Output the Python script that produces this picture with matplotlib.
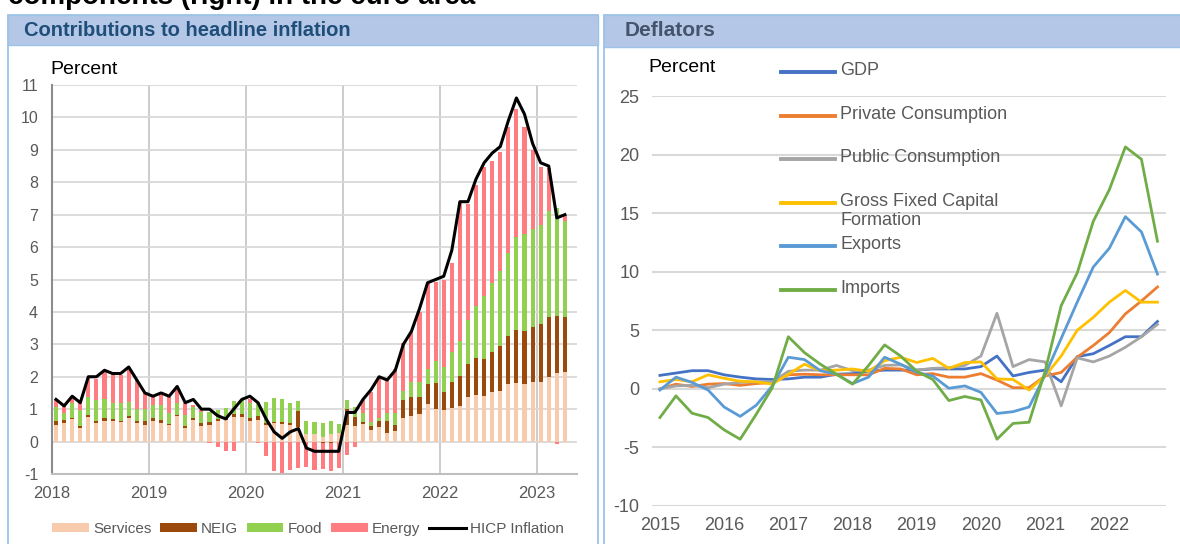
import numpy as np
import matplotlib
matplotlib.use('Agg')
import matplotlib.pyplot as plt
from matplotlib.patches import Rectangle
from matplotlib.lines import Line2D

plt.rcParams['font.family'] = ['Liberation Sans', 'DejaVu Sans']
plt.rcParams['axes.unicode_minus'] = False

# Left panel: contributions to HICP, monthly Jan 2018 - Apr 2023 (pp)
services = [0.51, 0.57, 0.70, 0.41, 0.77, 0.57, 0.64, 0.62, 0.59, 0.74, 0.57, 0.52,
            0.65, 0.57, 0.51, 0.79, 0.41, 0.67, 0.48, 0.51, 0.62, 0.67, 0.75, 0.77,
            0.62, 0.67, 0.51, 0.57, 0.54, 0.51, 0.44, 0.24, 0.24, 0.15, 0.24, 0.26,
            0.51, 0.49, 0.53, 0.36, 0.44, 0.28, 0.33, 0.72, 0.79, 0.85, 1.15, 1.00,
            0.98, 1.03, 1.10, 1.36, 1.44, 1.41, 1.54, 1.57, 1.78, 1.80, 1.78, 1.83,
            1.83, 2.00, 2.11, 2.15]
neig = [0.12, 0.10, 0.03, 0.07, 0.04, 0.08, 0.08, 0.07, 0.04, 0.05, 0.05, 0.10,
        0.07, 0.10, 0.02, 0.03, 0.08, 0.07, 0.08, 0.08, 0.07, 0.05, 0.10, 0.08,
        0.10, 0.13, 0.06, 0.04, 0.05, 0.05, 0.50, 0.00, -0.02, -0.03, -0.05, 0.00,
        0.49, 0.28, 0.08, 0.12, 0.18, 0.34, 0.18, 0.56, 0.58, 0.54, 0.62, 0.80,
        0.56, 0.82, 0.92, 1.02, 1.13, 1.13, 1.22, 1.38, 1.48, 1.64, 1.64, 1.72,
        1.79, 1.83, 1.77, 1.68]
food = [0.44, 0.22, 0.47, 0.50, 0.56, 0.63, 0.59, 0.51, 0.55, 0.44, 0.39, 0.38,
        0.41, 0.45, 0.36, 0.38, 0.33, 0.34, 0.36, 0.33, 0.29, 0.31, 0.41, 0.43,
        0.46, 0.42, 0.65, 0.72, 0.73, 0.64, 0.30, 0.41, 0.36, 0.42, 0.40, 0.27,
        0.29, 0.31, 0.26, 0.13, 0.12, 0.25, 0.36, 0.29, 0.46, 0.44, 0.46, 0.70,
        0.75, 0.90, 1.08, 1.37, 1.61, 1.95, 2.12, 2.31, 2.55, 2.86, 2.97, 3.00,
        3.06, 3.28, 3.34, 2.98]
energy = [0.20, 0.21, 0.14, 0.20, 0.58, 0.64, 0.85, 0.87, 0.88, 1.01, 0.89, 0.49,
          0.26, 0.32, 0.50, 0.50, 0.36, 0.04, 0.05, -0.05, -0.17, -0.30, -0.30, 0.02,
          0.13, -0.03, -0.44, -0.92, -1.03, -0.87, -0.82, -0.79, -0.85, -0.82, -0.87, -0.82,
          -0.41, -0.17, 0.41, 0.92, 1.24, 1.03, 1.36, 1.48, 1.56, 2.18, 2.65, 2.43,
          2.71, 2.77, 4.30, 3.58, 3.73, 3.99, 3.77, 3.68, 3.88, 3.95, 3.30, 2.44,
          1.80, 1.32, -0.08, 0.18]
hicp = [1.3, 1.1, 1.4, 1.2, 2.0, 2.0, 2.2, 2.1, 2.1, 2.3, 1.9, 1.5,
        1.4, 1.5, 1.4, 1.7, 1.2, 1.3, 1.0, 1.0, 0.8, 0.7, 1.0, 1.3,
        1.4, 1.2, 0.7, 0.3, 0.1, 0.3, 0.4, -0.2, -0.3, -0.3, -0.3, -0.3,
        0.9, 0.9, 1.3, 1.6, 2.0, 1.9, 2.2, 3.0, 3.4, 4.1, 4.9, 5.0,
        5.1, 5.9, 7.4, 7.4, 8.1, 8.6, 8.9, 9.1, 9.9, 10.6, 10.1, 9.2,
        8.6, 8.5, 6.9, 7.0]
left_years = ['2018', '2019', '2020', '2021', '2022', '2023']
comp_names = ['Services', 'NEIG', 'Food', 'Energy']
comp_colors = ['#F8CBAD', '#9C4A0C', '#92D050', '#FF7C80']

# Right panel: deflators, y/y %, quarterly 2015Q1 - 2022Q4
gdp = [1.15, 1.35, 1.55, 1.55, 1.2, 1.0, 0.85, 0.8, 0.85, 1.0, 1.0, 1.25, 1.3, 1.5, 1.6, 1.6,
       1.6, 1.7, 1.7, 1.7, 1.9, 2.8, 1.1, 1.4, 1.6, 0.6, 2.75, 3.0, 3.7, 4.45, 4.45, 5.75]
priv_cons = [0.0, 0.4, 0.2, 0.4, 0.45, 0.3, 0.45, 0.55, 1.2, 1.25, 1.2, 1.2, 1.2, 1.2, 1.75, 1.7,
             1.2, 1.3, 1.0, 1.0, 1.3, 0.75, 0.1, 0.1, 1.1, 1.4, 2.7, 3.7, 4.8, 6.4, 7.5, 8.7]
pub_cons = [0.0, 0.25, 0.3, 0.1, 0.4, 0.55, 0.6, 0.6, 1.5, 1.6, 1.6, 2.0, 1.55, 1.6, 2.0, 2.05,
            1.6, 1.75, 1.8, 2.0, 2.8, 6.45, 1.9, 2.5, 2.3, -1.45, 2.65, 2.3, 2.8, 3.55, 4.45, 5.5]
gfcf = [0.6, 0.8, 0.6, 1.2, 0.9, 0.65, 0.6, 0.4, 1.25, 2.1, 1.55, 1.6, 1.7, 1.5, 2.4, 2.7,
        2.25, 2.6, 1.75, 2.25, 2.3, 0.85, 0.8, -0.1, 1.1, 2.8, 5.0, 6.1, 7.4, 8.4, 7.4, 7.4]
exports = [-0.1, 1.0, 0.55, -0.1, -1.55, -2.35, -1.4, 0.25, 2.7, 2.5, 1.55, 1.25, 0.45, 1.0, 2.7, 2.1,
           1.4, 1.1, 0.05, 0.25, -0.3, -2.1, -1.95, -1.55, 1.2, 4.3, 7.4, 10.4, 12.0, 14.7, 13.4, 9.8]
imports = [-2.45, -0.6, -2.08, -2.45, -3.5, -4.3, -2.17, 0.1, 4.45, 3.1, 2.1, 1.25, 0.4, 2.0, 3.75, 2.8,
           1.5, 0.8, -1.0, -0.65, -0.95, -4.3, -2.95, -2.85, 1.5, 7.1, 9.9, 14.3, 17.0, 20.65, 19.6, 12.6]
right_years = ['2015', '2016', '2017', '2018', '2019', '2020', '2021', '2022']
defl_names = ['GDP', 'Private Consumption', 'Public Consumption',
              'Gross Fixed Capital\nFormation', 'Exports', 'Imports']
defl_colors = ['#4472C4', '#ED7D31', '#A5A5A5', '#FFC000', '#5B9BD5', '#70AD47']

W, H = 1180, 544
fig = plt.figure(figsize=(W / 100, H / 100), dpi=100)


def fx(px):
    return px / W


def fy(py):
    return 1 - py / H


# heading of the page, cut off at the top edge as in the source
fig.text(fx(8), fy(3.5), 'components (right) in the euro area', fontsize=20,
         fontweight='bold', color='black', va='baseline', ha='left')

# panel frames and title bars
for x0, x1, bar_bottom in [(8, 598, 45), (604, 1190, 47)]:
    fig.patches.append(Rectangle((fx(x0), fy(550)), (x1 - x0) / W, (550 - 15) / H,
                                 transform=fig.transFigure, fill=False,
                                 ec='#9DC3E6', lw=1.3))
    fig.patches.append(Rectangle((fx(x0), fy(bar_bottom)), (x1 - x0) / W, (bar_bottom - 15) / H,
                                 transform=fig.transFigure, fc='#B4C7E7',
                                 ec='#9DC3E6', lw=1.0))
fig.text(fx(24), fy(30), 'Contributions to headline inflation', fontsize=14.5,
         fontweight='bold', color='#1F4E79', va='center')
fig.text(fx(625), fy(31), 'Deflators', fontsize=15, fontweight='bold',
         color='#44546A', va='center')

# ---- left chart ----
axL = fig.add_axes([fx(52), fy(474), (577 - 52) / W, (474 - 85) / H])
n = len(hicp)
x = np.arange(n) + 0.5
pos_base = np.zeros(n)
neg_base = np.zeros(n)
handles = []
for vals, name, col in zip([services, neig, food, energy], comp_names, comp_colors):
    v = np.array(vals)
    bottom = np.where(v >= 0, pos_base, neg_base)
    b = axL.bar(x, v, 0.5, bottom=bottom, color=col, label=name, zorder=2)
    handles.append(b)
    pos_base += np.clip(v, 0, None)
    neg_base += np.clip(v, None, 0)
ln, = axL.plot(x, hicp, color='black', lw=2.2, label='HICP Inflation', zorder=3)
handles.append(ln)

axL.set_xlim(0, 65)
axL.set_ylim(-1, 11)
axL.set_xticks(np.arange(0, 61, 12))
axL.set_xticklabels(left_years)
axL.set_yticks(np.arange(-1, 12))
axL.set_axisbelow(True)
axL.yaxis.grid(True, color='#D9D9D9', lw=1.3)
axL.xaxis.grid(True, color='#C8C8C8', lw=1.3)
axL.tick_params(length=0, labelcolor='#595959')
axL.tick_params(axis='y', labelsize=11.5, pad=10)
axL.tick_params(axis='x', labelsize=12, pad=9)
for s in ['top', 'right']:
    axL.spines[s].set_visible(False)
axL.spines['left'].set_color('#8C8C8C')
axL.spines['left'].set_linewidth(1.5)
axL.spines['bottom'].set_color('#BFBFBF')
axL.spines['bottom'].set_linewidth(1.5)
fig.text(fx(50), fy(70), 'Percent', fontsize=14, color='black', va='center')

fig.legend(handles=handles, loc='center', bbox_to_anchor=(fx(308), fy(529)), ncol=5,
           frameon=False, fontsize=11, handlelength=2.4, handleheight=0.45,
           handletextpad=0.3, columnspacing=0.55, labelcolor='#595959')

# ---- right chart ----
axR = fig.add_axes([fx(651.9), fy(506), 513.6 / W, (506 - 96) / H])
q = np.arange(len(gdp))
for vals, col in zip([gdp, priv_cons, pub_cons, gfcf, exports, imports], defl_colors):
    axR.plot(q, vals, color=col, lw=2.0, zorder=2)
axR.set_xlim(-0.5, len(gdp) - 0.5)
axR.set_ylim(-10, 25)
axR.set_xticks(np.arange(0, len(gdp), 4))
axR.set_xticklabels(right_years)
axR.set_yticks(np.arange(-10, 26, 5))
axR.set_axisbelow(True)
axR.yaxis.grid(True, color='#D9D9D9', lw=1.5)
axR.tick_params(length=0, labelcolor='#595959', labelsize=13)
axR.tick_params(axis='y', pad=9)
axR.tick_params(axis='x', pad=8)
for s in axR.spines.values():
    s.set_visible(False)
fig.text(fx(648), fy(67), 'Percent', fontsize=14, color='black', va='center')

# legend laid out as in the source (even entry spacing, wrapped label overflows)
for i, (name, col) in enumerate(zip(defl_names, defl_colors)):
    yc = 72 + i * 43.6
    fig.add_artist(Line2D([fx(781), fx(835)], [fy(yc), fy(yc)], color=col, lw=2.8,
                          transform=fig.transFigure))
    fig.text(fx(840), fy(yc - 10), name, fontsize=13, color='#595959',
             va='top', ha='left', linespacing=1.2)

fig.savefig('out.png', dpi=100)
